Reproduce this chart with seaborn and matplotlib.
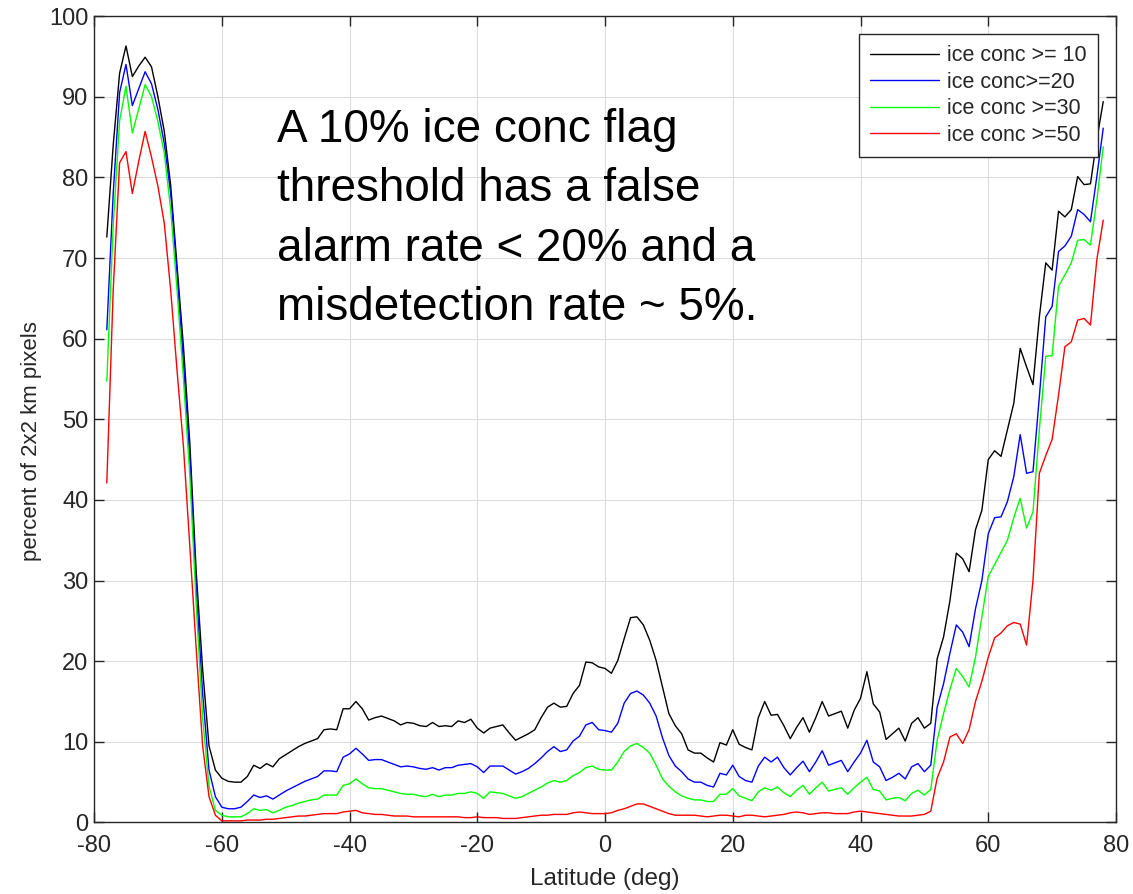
import matplotlib
matplotlib.use("Agg")
import matplotlib.pyplot as plt
import numpy as np
import pandas as pd
import seaborn as sns

# latitude bins, -78 .. 78 deg
lat = list(range(-78, 79))

ice10 = [72.6, 84, 92.9, 96.3, 92.5, 93.8, 94.9, 93.7, 90.0, 85.7,
         79, 69, 59, 47, 31, 19, 9.5, 6.5, 5.5, 5.1,
         5.0, 5.0, 5.7, 7.1, 6.7, 7.3, 6.9, 7.9, 8.4, 8.9,
         9.4, 9.8, 10.1, 10.4, 11.5, 11.6, 11.5, 14.1, 14.1, 15.0,
         14.1, 12.7, 13.0, 13.2, 12.9, 12.6, 12.1, 12.4, 12.3, 12.0,
         11.9, 12.4, 11.9, 12.0, 11.9, 12.6, 12.4, 12.8, 11.7, 11.1,
         11.7, 11.9, 12.1, 11.1, 10.2, 10.6, 11.0, 11.5, 13.0, 14.3,
         14.8, 14.3, 14.4, 16.0, 17.0, 19.9, 19.8, 19.3, 19.1, 18.5,
         20.1, 22.8, 25.4, 25.5, 24.5, 22.6, 20.1, 16.8, 13.5, 12.0,
         11.0, 9.0, 8.6, 8.6, 8.0, 7.5, 9.9, 9.6, 11.5, 9.7,
         9.3, 9.0, 13.0, 15.0, 13.3, 13.4, 12.0, 10.4, 11.8, 13.0,
         11.2, 13.0, 15.0, 13.2, 13.5, 13.8, 11.7, 13.9, 15.4, 18.7,
         14.7, 13.7, 10.3, 11.0, 11.7, 10.1, 12.3, 13.0, 11.7, 12.3,
         20.3, 23.0, 27.5, 33.4, 32.7, 31.1, 36.3, 38.7, 45.0, 46.1,
         45.4, 48.7, 52.0, 58.8, 56.5, 54.3, 62.7, 69.4, 68.5, 75.8,
         75.1, 76.0, 80.1, 79.1, 79.2, 84.7, 89.4]

ice20 = [61.1, 78, 90.5, 94.0, 88.9, 91.0, 93.1, 91.6, 88.4, 84.2,
         78, 68, 57, 45, 29, 16, 6.5, 3.2, 1.9, 1.7,
         1.7, 1.9, 2.6, 3.4, 3.1, 3.3, 2.9, 3.4, 3.9, 4.3,
         4.7, 5.1, 5.4, 5.7, 6.4, 6.4, 6.3, 8.1, 8.5, 9.2,
         8.5, 7.7, 7.8, 7.8, 7.5, 7.2, 6.9, 7.0, 6.9, 6.7,
         6.6, 6.8, 6.5, 6.8, 6.8, 7.1, 7.2, 7.3, 6.9, 6.2,
         7.0, 7.0, 7.0, 6.5, 6.0, 6.3, 6.7, 7.3, 8.0, 8.8,
         9.4, 8.8, 9.0, 10.1, 10.7, 12.1, 12.4, 11.5, 11.4, 11.2,
         12.3, 14.8, 16.0, 16.3, 15.8, 14.8, 13.2, 10.5, 8.3, 7.0,
         6.3, 5.4, 5.0, 5.0, 4.6, 4.4, 6.1, 5.9, 7.1, 5.7,
         5.2, 5.0, 7.0, 8.1, 7.5, 8.1, 6.8, 5.9, 6.8, 7.6,
         6.3, 7.5, 8.9, 7.1, 7.4, 7.7, 6.3, 7.5, 8.6, 10.2,
         7.5, 6.9, 5.2, 5.6, 6.1, 5.4, 6.9, 7.3, 6.3, 7.1,
         14.3, 17.2, 21.0, 24.5, 23.6, 21.8, 26.5, 30.0, 35.8, 37.8,
         37.9, 39.8, 42.9, 48.1, 43.3, 43.5, 52.8, 62.7, 64.0, 70.8,
         71.5, 72.7, 76.0, 75.4, 74.5, 80.1, 86.1]

ice30 = [54.7, 74, 87, 91.3, 85.5, 88.5, 91.5, 90.0, 86.9, 83.0,
         76, 66, 55, 43, 27, 13, 4.5, 1.5, 0.9, 0.7,
         0.7, 0.7, 1.1, 1.7, 1.5, 1.6, 1.2, 1.5, 1.9, 2.1,
         2.4, 2.6, 2.8, 2.9, 3.4, 3.4, 3.4, 4.6, 4.8, 5.4,
         4.8, 4.3, 4.2, 4.2, 4.0, 3.8, 3.6, 3.5, 3.5, 3.3,
         3.2, 3.5, 3.2, 3.4, 3.4, 3.6, 3.6, 3.8, 3.6, 3.0,
         3.8, 3.7, 3.6, 3.3, 3.0, 3.2, 3.6, 4.0, 4.4, 4.9,
         5.2, 5.0, 5.2, 5.8, 6.2, 6.8, 7.0, 6.6, 6.5, 6.5,
         7.5, 8.8, 9.5, 9.8, 9.3, 8.6, 7.1, 5.4, 4.5, 3.8,
         3.3, 3.0, 2.8, 2.8, 2.6, 2.6, 3.5, 3.5, 4.2, 3.3,
         3.0, 2.7, 3.8, 4.3, 4.0, 4.4, 3.7, 3.2, 4.0, 4.6,
         3.5, 4.3, 5.0, 3.9, 4.1, 4.3, 3.5, 4.3, 5.0, 5.6,
         4.1, 3.9, 2.8, 3.0, 3.1, 2.7, 3.6, 4.0, 3.4, 4.1,
         10.2, 13.5, 16.5, 19.1, 18.1, 16.8, 20.5, 25.5, 30.5, 32.0,
         33.5, 35.0, 37.8, 40.2, 36.5, 38.5, 48.7, 57.8, 57.9, 66.5,
         67.9, 69.4, 72.2, 72.3, 71.6, 77.2, 83.8]

ice50 = [42.1, 66, 81.8, 83.2, 78.0, 82, 85.7, 82.5, 78.9, 74.3,
         66, 56, 46.6, 34.2, 21.5, 9.5, 3.2, 0.9, 0.2, 0.2,
         0.2, 0.2, 0.3, 0.3, 0.3, 0.4, 0.4, 0.5, 0.6, 0.7,
         0.8, 0.8, 0.9, 1.0, 1.1, 1.1, 1.1, 1.3, 1.4, 1.5,
         1.2, 1.1, 1.0, 1.0, 0.9, 0.8, 0.8, 0.8, 0.7, 0.7,
         0.7, 0.7, 0.7, 0.7, 0.7, 0.7, 0.6, 0.6, 0.7, 0.6,
         0.6, 0.6, 0.5, 0.5, 0.5, 0.6, 0.7, 0.8, 0.9, 0.9,
         1.0, 1.0, 1.0, 1.2, 1.3, 1.2, 1.1, 1.1, 1.1, 1.2,
         1.5, 1.7, 2.0, 2.3, 2.3, 2.0, 1.7, 1.4, 1.1, 0.9,
         0.9, 0.9, 0.9, 0.8, 0.7, 0.8, 0.9, 0.9, 0.8, 0.7,
         0.9, 0.9, 0.8, 0.7, 0.8, 0.9, 1.0, 1.2, 1.3, 1.2,
         1.0, 1.1, 1.2, 1.2, 1.1, 1.1, 1.1, 1.3, 1.4, 1.3,
         1.2, 1.1, 1.0, 0.9, 0.8, 0.8, 0.8, 0.9, 1.0, 1.4,
         5.5, 7.5, 10.6, 11.0, 9.8, 11.5, 15.0, 17.5, 20.5, 22.9,
         23.5, 24.4, 24.8, 24.6, 22.0, 30.0, 43.3, 45.5, 47.5, 53.0,
         59.0, 59.6, 62.3, 62.5, 61.7, 69.8, 74.7]

labels = ['ice conc >= 10', 'ice conc>=20', 'ice conc >=30', 'ice conc >=50']
colors = ['#000000', '#0000ff', '#00ff00', '#ff0000']

df = pd.DataFrame({'lat': lat, labels[0]: ice10, labels[1]: ice20,
                   labels[2]: ice30, labels[3]: ice50})
long = df.melt(id_vars='lat', var_name='series', value_name='pct')

sns.set_style('ticks')
plt.rcParams['font.family'] = ['Liberation Sans', 'DejaVu Sans']
plt.rcParams['axes.unicode_minus'] = False

fig = plt.figure(figsize=(11.33, 8.94), dpi=100)
ax = fig.add_axes([0.083, 0.080, 0.902, 0.902])

sns.lineplot(data=long, x='lat', y='pct', hue='series', hue_order=labels,
             palette=dict(zip(labels, colors)), linewidth=1.0, ax=ax)

ax.set_xlim(-80, 80)
ax.set_ylim(0, 100)
ax.set_xticks(np.arange(-80, 81, 20))
ax.set_yticks(np.arange(0, 101, 10))
ax.grid(True, color='#dcdcdc', linewidth=0.8)
ax.set_axisbelow(True)
ax.tick_params(direction='in', length=7, width=1, top=True, right=True,
               labelsize=17, color='#262626', labelcolor='#262626')
ax.tick_params(axis='x', pad=9)
ax.tick_params(axis='y', pad=4)
for s in ax.spines.values():
    s.set_visible(True)
    s.set_color('#262626')
    s.set_linewidth(1.0)

ax.set_xlabel('Latitude (deg)', fontsize=17.5, color='#262626', labelpad=8)
ax.set_ylabel('percent of 2x2 km pixels', fontsize=16, color='#262626')
ax.yaxis.set_label_coords(-0.051, 0.473)

leg = ax.legend(loc='upper right', fontsize=15.5, frameon=True, fancybox=False,
                edgecolor='#262626', framealpha=1, handlelength=3.2,
                handletextpad=0.4, borderpad=0.5,
                borderaxespad=0.85, labelspacing=0.26)
leg.get_frame().set_linewidth(1.0)

ax.text(0.179, 0.886,
        'A 10% ice conc flag\nthreshold has a false\nalarm rate < 20% and a\nmisdetection rate ~ 5%.',
        transform=ax.transAxes, fontsize=33, va='top', ha='left',
        color='black', linespacing=1.45)

fig.savefig('out.png', dpi=100)
